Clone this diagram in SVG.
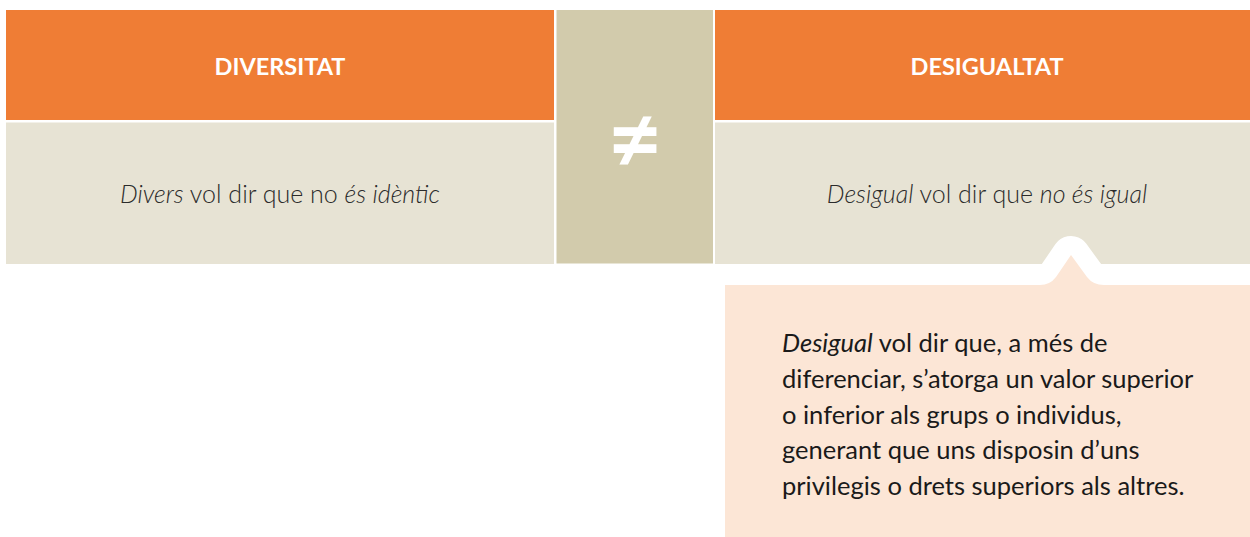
<svg xmlns="http://www.w3.org/2000/svg" width="1250" height="537" viewBox="0 0 1250 537">
<style>
.hd{fill:#EF7D35}
.bd{fill:#E7E3D4}
.ht{font-family:Lato,"Noto Sans",sans-serif;font-weight:bold;font-size:23.5px;fill:#fff;text-anchor:middle}
.bt{font-family:Lato,"Noto Sans",sans-serif;font-weight:300;font-size:25px;fill:#2b2b2b;text-anchor:middle}
.pt{font-family:Lato,"Noto Sans",sans-serif;font-size:25.5px;fill:#1a1a1a}
.it{font-style:italic}
</style>
<rect width="1250" height="537" fill="#fff"/>
<g id="diversitat">
<rect class="hd" x="6" y="10" width="548" height="110"/>
<rect class="bd" x="6" y="122.5" width="548" height="141.5"/>
<text class="ht" x="280" y="75">DIVERSITAT</text>
<text class="bt" x="280" y="203"><tspan class="it">Divers</tspan> vol dir que no <tspan class="it">és idèntic</tspan></text>
</g>
<g id="diferent">
<rect x="556.5" y="10" width="156.5" height="253.5" fill="#D2CBAC"/>
<text x="635" y="172" font-family="Lato,'Noto Sans',sans-serif" font-size="96" font-weight="bold" fill="#fff" text-anchor="middle">≠</text>
</g>
<g id="desigualtat">
<rect class="hd" x="715" y="10" width="535" height="110"/>
<rect class="bd" x="715" y="122.5" width="535" height="141.5"/>
<text class="ht" x="987" y="75">DESIGUALTAT</text>
<text class="bt" x="987" y="203"><tspan class="it">Desigual</tspan> vol dir que <tspan class="it">no és igual</tspan></text>
</g>
<g id="explicacio">
<path d="M725,285 L1040,285 Q1050,285 1056,277 L1071,255 L1087,277 Q1093,285 1104,285 L1250,285" fill="none" stroke="#fff" stroke-width="38" stroke-linejoin="round"/>
<path d="M725,285 L1040,285 Q1050,285 1056,277 L1071,255 L1087,277 Q1093,285 1104,285 L1250,285 L1250,537 L725,537 Z" fill="#FCE6D6"/>
<text class="pt" x="782" y="352"><tspan class="it">Desigual</tspan> vol dir que, a més de</text>
<text class="pt" x="782" y="388">diferenciar, s’atorga un valor superior</text>
<text class="pt" x="782" y="424">o inferior als grups o individus,</text>
<text class="pt" x="782" y="459">generant que uns disposin d’uns</text>
<text class="pt" x="782" y="495">privilegis o drets superiors als altres.</text>
</g>
<g id="connectors"/>
</svg>
